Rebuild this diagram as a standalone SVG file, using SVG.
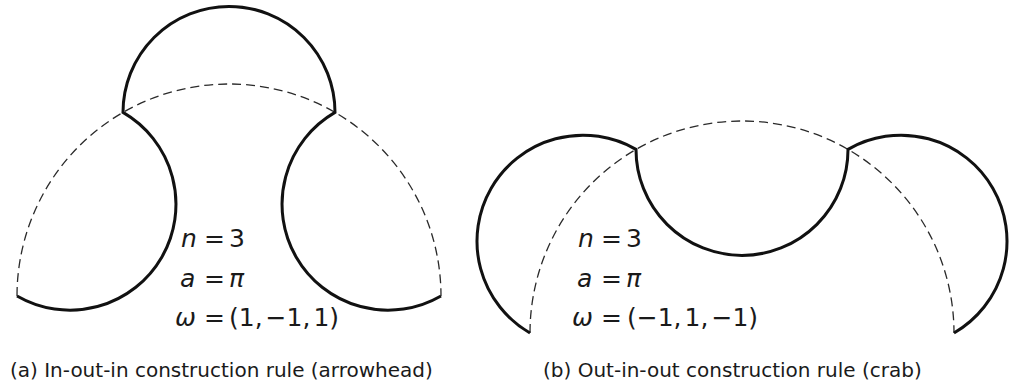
<svg xmlns="http://www.w3.org/2000/svg" width="1015" height="386" viewBox="0 0 1015 386">
<style>
.bg{fill:#ffffff}
.dash{fill:none;stroke:#2a2a2a;stroke-width:1.3;stroke-dasharray:9,5}
.solid{fill:none;stroke:#111111;stroke-width:3;stroke-linejoin:miter}
.math{font-family:"DejaVu Sans",sans-serif;font-size:25px;fill:#1a1a1a}
.it{font-style:italic}
.cap{font-family:"DejaVu Sans",sans-serif;font-size:20px;fill:#1a1a1a}
</style>
<rect class="bg" x="0" y="0" width="1015" height="386"/>
<g id="panel-a">
  <path class="dash" d="M17,296 A212,212 0 0,1 441,296"/>
  <path class="solid" d="M17,296 A106,106 0 0,0 123,112.4 A106,106 0 0,1 335,112.4 A106,106 0 0,0 441,296"/>
  <text class="math" x="181" y="247"><tspan class="it">n</tspan><tspan x="204">=</tspan><tspan x="229">3</tspan></text>
  <text class="math" x="180" y="287"><tspan class="it">a</tspan><tspan x="204">=</tspan><tspan class="it" x="229">π</tspan></text>
  <text class="math" x="175" y="326"><tspan class="it">ω</tspan><tspan x="204">=</tspan><tspan x="229">(1,</tspan><tspan dx="3">−</tspan><tspan dx="0">1,</tspan><tspan dx="3">1)</tspan></text>
  <text class="cap" x="10" y="377">(a) In-out-in construction rule (arrowhead)</text>
</g>
<g id="panel-b">
  <path class="dash" d="M530,333 A212,212 0 0,1 954,333"/>
  <path class="solid" d="M530,333 A106,106 0 0,1 636,149.4 A106,106 0 0,0 848,149.4 A106,106 0 0,1 954,333"/>
  <text class="math" x="578" y="247"><tspan class="it">n</tspan><tspan x="601">=</tspan><tspan x="626">3</tspan></text>
  <text class="math" x="577" y="287"><tspan class="it">a</tspan><tspan x="601">=</tspan><tspan class="it" x="626">π</tspan></text>
  <text class="math" x="572" y="326"><tspan class="it">ω</tspan><tspan x="601">=</tspan><tspan x="627">(</tspan><tspan>−</tspan><tspan dx="0">1,</tspan><tspan dx="3">1,</tspan><tspan dx="3">−</tspan><tspan dx="0">1)</tspan></text>
  <text class="cap" x="543" y="377">(b) Out-in-out construction rule (crab)</text>
</g>
</svg>
